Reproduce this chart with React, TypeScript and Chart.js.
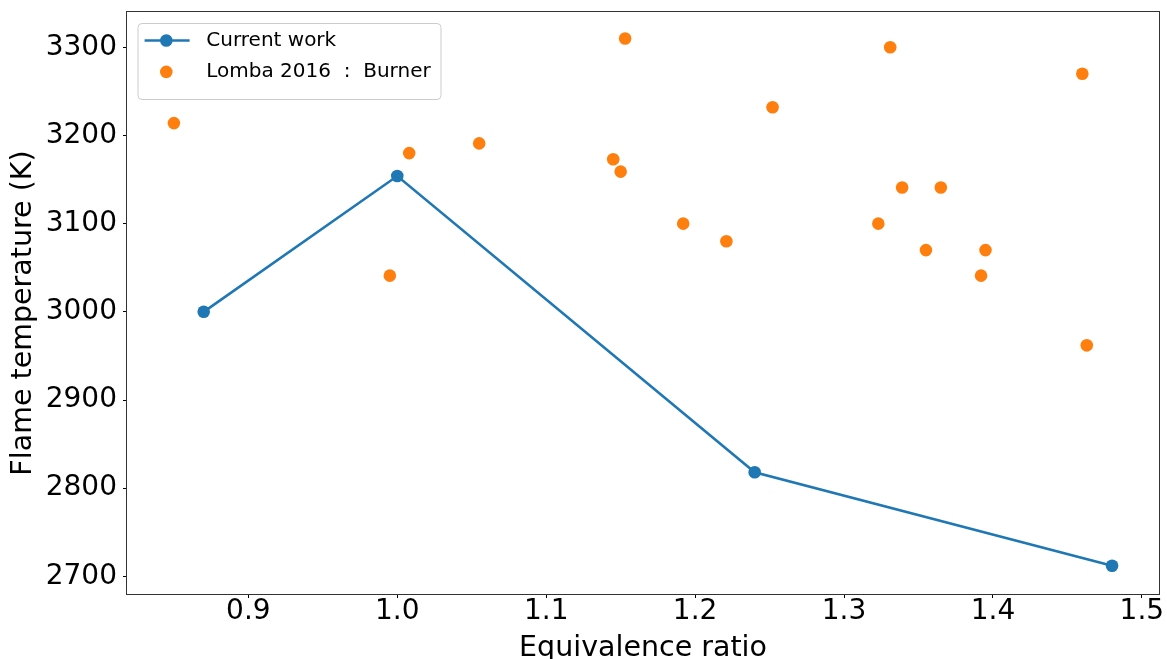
import React, { useEffect, useRef } from 'react';
import { Chart, registerables } from 'chart.js';

Chart.register(...registerables);

// ---- data ----
const currentPhi = [0.87, 1.0, 1.24, 1.48];
const currentTemp = [3000, 3154, 2818, 2712];

const lombaPhi = [0.85, 0.995, 1.008, 1.055, 1.145, 1.15, 1.153, 1.192, 1.221, 1.252, 1.323, 1.331, 1.339, 1.355, 1.365, 1.392, 1.395, 1.46, 1.463];
const lombaTemp = [3214, 3041, 3180, 3191, 3173, 3159, 3310, 3100, 3080, 3232, 3100, 3300, 3141, 3070, 3141, 3041, 3070, 3270, 2962];

const xTicks = [0.9, 1.0, 1.1, 1.2, 1.3, 1.4, 1.5];
const yTicks = [2700, 2800, 2900, 3000, 3100, 3200, 3300];

const seriesNames = ['Current work', 'Lomba 2016  :  Burner'];
const xTitle = 'Equivalence ratio';
const yTitle = 'Flame temperature (K)';

const BLUE = '#1f77b4';
const ORANGE = '#ff7f0e';
const FONT = '"DejaVu Sans", Verdana, sans-serif';

const framePlugin = {
  id: 'frame',
  afterDraw(chart: any) {
    const { ctx, chartArea } = chart;
    ctx.save();
    ctx.strokeStyle = '#333333';
    ctx.lineWidth = 1;
    ctx.strokeRect(chartArea.left - 0.5, chartArea.top - 0.5, chartArea.right - chartArea.left + 1, chartArea.bottom - chartArea.top + 1);
    ctx.restore();
  },
};

// y-axis title, centred on the text as the source figure places it
const yTitlePlugin = {
  id: 'yTitle',
  afterDraw(chart: any) {
    const { ctx, chartArea } = chart;
    ctx.save();
    ctx.translate(23.6, (chartArea.top + chartArea.bottom) / 2 + 10);
    ctx.rotate(-Math.PI / 2);
    ctx.fillStyle = '#000';
    ctx.font = `28.5px ${FONT}`;
    ctx.textAlign = 'center';
    ctx.textBaseline = 'middle';
    ctx.fillText(yTitle, 0, 0);
    ctx.restore();
  },
};

const legendPlugin = {
  id: 'innerLegend',
  afterDraw(chart: any) {
    const { ctx, chartArea } = chart;
    const x0 = chartArea.left + 11;
    const y0 = chartArea.top + 11.5;
    const w = 303;
    const h = 76;
    const r = 4;
    ctx.save();
    ctx.beginPath();
    ctx.moveTo(x0 + r, y0);
    ctx.lineTo(x0 + w - r, y0);
    ctx.arcTo(x0 + w, y0, x0 + w, y0 + r, r);
    ctx.lineTo(x0 + w, y0 + h - r);
    ctx.arcTo(x0 + w, y0 + h, x0 + w - r, y0 + h, r);
    ctx.lineTo(x0 + r, y0 + h);
    ctx.arcTo(x0, y0 + h, x0, y0 + h - r, r);
    ctx.lineTo(x0, y0 + r);
    ctx.arcTo(x0, y0, x0 + r, y0, r);
    ctx.closePath();
    ctx.fillStyle = 'rgba(255,255,255,0.8)';
    ctx.fill();
    ctx.strokeStyle = '#cccccc';
    ctx.lineWidth = 1;
    ctx.stroke();

    const rowsY = [y0 + 17, y0 + 48.4];
    const ds = chart.data.datasets;
    ds.forEach((d: any, i: number) => {
      const cy = rowsY[i];
      const mx = x0 + 28.3;
      if (d.showLine) {
        ctx.beginPath();
        ctx.moveTo(x0 + 6.6, cy);
        ctx.lineTo(x0 + 51.6, cy);
        ctx.strokeStyle = d.borderColor;
        ctx.lineWidth = d.borderWidth;
        ctx.stroke();
      }
      ctx.beginPath();
      ctx.arc(mx, cy, d.pointRadius, 0, Math.PI * 2);
      ctx.fillStyle = d.pointBackgroundColor;
      ctx.fill();
      ctx.fillStyle = '#000';
      ctx.font = `20px ${FONT}`;
      ctx.textBaseline = 'middle';
      ctx.textAlign = 'left';
      ctx.fillText(d.label, x0 + 68.3, cy);
    });
    ctx.restore();
  },
};

function zeroPad(scale: any) {
  scale.paddingLeft = 0;
  scale.paddingRight = 0;
  scale.paddingTop = 0;
  scale.paddingBottom = 0;
}

export default function App() {
  const ref = useRef<HTMLCanvasElement | null>(null);

  useEffect(() => {
    if (!ref.current) return;
    const chart = new Chart(ref.current, {
      type: 'scatter',
      data: {
        datasets: [
          {
            label: seriesNames[0],
            data: currentPhi.map((x, i) => ({ x, y: currentTemp[i] })),
            showLine: true,
            borderColor: BLUE,
            borderWidth: 2.6,
            backgroundColor: BLUE,
            pointBackgroundColor: BLUE,
            pointBorderWidth: 0,
            pointRadius: 6.3,
            pointHoverRadius: 6.3,
            tension: 0,
          } as any,
          {
            label: seriesNames[1],
            data: lombaPhi.map((x, i) => ({ x, y: lombaTemp[i] })),
            showLine: false,
            borderColor: ORANGE,
            backgroundColor: ORANGE,
            pointBackgroundColor: ORANGE,
            pointBorderWidth: 0,
            pointRadius: 6.3,
            pointHoverRadius: 6.3,
          } as any,
        ],
      },
      options: {
        animation: false,
        responsive: false,
        devicePixelRatio: 1,
        events: [],
        layout: { padding: { left: 0, top: 12, right: 8, bottom: 0 } },
        plugins: {
          legend: { display: false },
          tooltip: { enabled: false },
        },
        scales: {
          x: {
            type: 'linear',
            position: 'bottom',
            min: 0.8185,
            max: 1.5115,
            afterBuildTicks: (scale: any) => {
              scale.ticks = xTicks.map((v) => ({ value: v }));
            },
            afterFit: (scale: any) => {
              scale.height = 65;
              zeroPad(scale);
            },
            ticks: {
              autoSkip: false,
              maxRotation: 0,
              minRotation: 0,
              padding: 0,
              color: '#000',
              font: { family: FONT, size: 28, lineHeight: 1 },
              callback: (v: any) => Number(v).toFixed(1),
            },
            grid: {
              display: true,
              drawOnChartArea: false,
              drawTicks: true,
              tickLength: 4,
              color: '#000',
              lineWidth: 1,
            },
            border: { display: false },
            title: {
              display: true,
              text: xTitle,
              color: '#000',
              font: { family: FONT, size: 28.5, lineHeight: 1 },
              padding: { top: 0, bottom: -4 },
            },
          },
          y: {
            type: 'linear',
            position: 'left',
            min: 2680,
            max: 3340,
            afterBuildTicks: (scale: any) => {
              scale.ticks = yTicks.map((v) => ({ value: v }));
            },
            afterFit: (scale: any) => {
              scale.width = 127;
              zeroPad(scale);
            },
            ticks: {
              autoSkip: false,
              padding: 6,
              color: '#000',
              font: { family: FONT, size: 28, lineHeight: 1 },
              callback: (v: any) => String(v),
            },
            grid: {
              display: true,
              drawOnChartArea: false,
              drawTicks: true,
              tickLength: 4,
              color: '#000',
              lineWidth: 1,
            },
            border: { display: false },
            title: { display: false, text: yTitle },
          },
        },
      } as any,
      plugins: [framePlugin, yTitlePlugin, legendPlugin],
    });
    return () => chart.destroy();
  }, []);

  return (
    <div style={{ position: 'absolute', left: 0, top: 0, width: 1167, height: 659, background: '#fff' }}>
      <canvas ref={ref} width={1167} height={659} style={{ width: 1167, height: 659, display: 'block' }} />
    </div>
  );
}
